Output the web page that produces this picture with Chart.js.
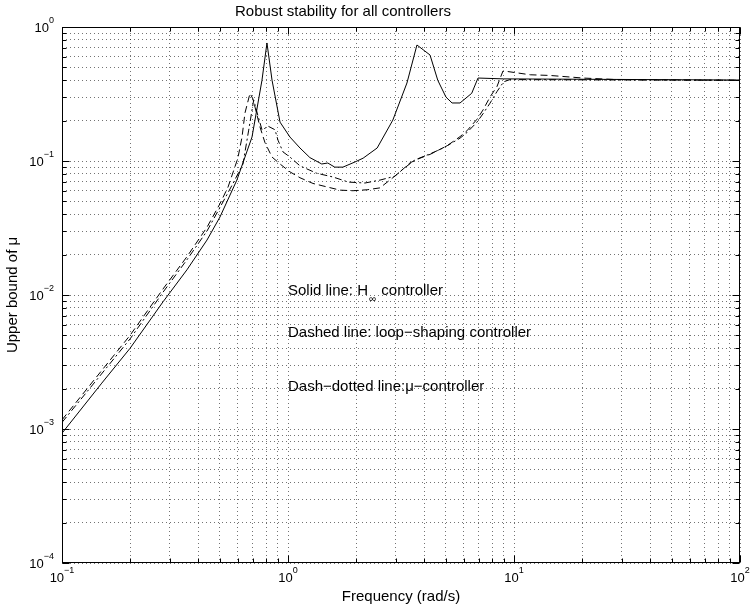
<!DOCTYPE html>
<html><head><meta charset="utf-8">
<script src="https://cdn.jsdelivr.net/npm/chart.js@4/dist/chart.umd.min.js"></script>
<style>html,body{margin:0;padding:0;background:#fff}#wrap{width:751px;height:609px}</style>
</head><body><div id="wrap"><canvas id="c" width="751" height="609"></canvas></div>
<script>
// ---- data ----
const freqSolid = [0.1, 0.15, 0.2, 0.28, 0.357, 0.438, 0.5, 0.594, 0.693, 0.767, 0.807, 0.85, 0.922, 1.02, 1.13, 1.25, 1.41, 1.5, 1.61, 1.75, 1.98, 2.15, 2.48, 2.91, 3.36, 3.72, 4.25, 4.6, 5.0, 5.32, 5.77, 6.5, 6.93, 9.0, 100];
const muSolid   = [0.00093, 0.0022, 0.0040, 0.0089, 0.0154, 0.0257, 0.0382, 0.0721, 0.151, 0.40, 0.76, 0.40, 0.195, 0.151, 0.125, 0.106, 0.095, 0.0966, 0.090, 0.090, 0.0984, 0.105, 0.125, 0.202, 0.382, 0.734, 0.618, 0.40, 0.30, 0.271, 0.271, 0.32, 0.416, 0.41, 0.402];

const freqDashed = [0.1, 0.2, 0.28, 0.357, 0.438, 0.5, 0.543, 0.6, 0.626, 0.645, 0.679, 0.70, 0.752, 0.791, 0.85, 0.922, 1.02, 1.13, 1.29, 1.49, 1.7, 1.94, 2.24, 2.55, 2.91, 3.13, 3.47, 3.84, 4.25, 5.06, 5.77, 6.19, 6.86, 7.29, 7.83, 8.41, 8.94, 9.4, 11.8, 14.4, 20.2, 28.6, 100];
const muDashed   = [0.00117, 0.0050, 0.0111, 0.0193, 0.032, 0.048, 0.064, 0.105, 0.151, 0.228, 0.32, 0.29, 0.179, 0.137, 0.107, 0.095, 0.083, 0.075, 0.068, 0.064, 0.0606, 0.060, 0.061, 0.063, 0.075, 0.083, 0.097, 0.105, 0.112, 0.13, 0.152, 0.168, 0.205, 0.24, 0.30, 0.36, 0.47, 0.465, 0.44, 0.435, 0.416, 0.405, 0.40];

const freqDashDot = [0.1, 0.2, 0.28, 0.357, 0.438, 0.5, 0.571, 0.632, 0.67, 0.705, 0.735, 0.768, 0.816, 0.876, 0.903, 0.95, 1.02, 1.13, 1.34, 1.58, 1.85, 2.19, 2.55, 2.97, 3.2, 3.65, 4.25, 4.71, 5.06, 5.77, 6.19, 6.86, 7.29, 7.83, 8.41, 9.0, 9.6, 100];
const muDashDot   = [0.00112, 0.0047, 0.0105, 0.0183, 0.030, 0.045, 0.068, 0.095, 0.17, 0.285, 0.22, 0.17, 0.182, 0.171, 0.143, 0.117, 0.107, 0.092, 0.081, 0.076, 0.0696, 0.0685, 0.072, 0.077, 0.086, 0.102, 0.113, 0.122, 0.130, 0.148, 0.163, 0.195, 0.225, 0.27, 0.33, 0.39, 0.405, 0.40];

// axis ticks and labels
const xMajorValues = [0.1, 1, 10, 100];
const xMajorExps   = ['\u22121', '0', '1', '2'];
const yMajorValues = [1e-4, 1e-3, 1e-2, 1e-1, 1];
const yMajorExps   = ['\u22124', '\u22123', '\u22122', '\u22121', '0'];
const minorMultipliers = [2, 3, 4, 5, 6, 7, 8, 9];

const chartTitle = 'Robust stability for all controllers';
const xAxisTitle = 'Frequency (rad/s)';
const yAxisTitle = 'Upper bound of \u03bc';

// in-plot notes: [before subscript, subscript, after subscript]
const notePieces = [
  ['Solid line: H', '\u221e', ' controller'],
  ['Dashed line: loop\u2212shaping controller', '', ''],
  ['Dash\u2212dotted line:\u03bc\u2212controller', '', '']
];
const noteFreq = [1.0, 1.0, 1.0];
const noteMu   = [0.0107, 0.0052, 0.00206];

// ---- build ----
function buildTicks(majors) {
  const t = [];
  majors.forEach((m, i) => {
    t.push({ value: m, major: true });
    if (i < majors.length - 1) minorMultipliers.forEach(k => t.push({ value: m * k, major: false }));
  });
  return t;
}
const xTicks = buildTicks(xMajorValues);
const yTicks = buildTicks(yMajorValues);
const pts = (xs, ys) => xs.map((x, i) => ({ x: x, y: ys[i] }));

const FONT = '"Liberation Sans", Arial, Helvetica, sans-serif';

const matlabAxes = {
  id: 'matlabAxes',
  afterDraw(chart) {
    const ctx = chart.ctx, a = chart.chartArea;
    const xs = chart.scales.x, ys = chart.scales.y;
    const L = Math.round(a.left) + 0.5, R = Math.round(a.right) - 0.5;
    const T = Math.round(a.top) + 0.5, B = Math.round(a.bottom) - 0.5;
    ctx.save();
    ctx.strokeStyle = '#000';
    ctx.lineWidth = 1;
    ctx.setLineDash([]);
    ctx.strokeRect(L, T, R - L, B - T);
    // inward ticks on all sides
    ctx.beginPath();
    xTicks.forEach(t => {
      const px = Math.round(xs.getPixelForValue(t.value)) + 0.5;
      const len = t.major ? 7 : 4;
      ctx.moveTo(px, B); ctx.lineTo(px, B - len);
      ctx.moveTo(px, T); ctx.lineTo(px, T + len);
    });
    yTicks.forEach(t => {
      const py = Math.round(ys.getPixelForValue(t.value)) + 0.5;
      const len = t.major ? 7 : 4;
      ctx.moveTo(L, py); ctx.lineTo(L + len, py);
      ctx.moveTo(R, py); ctx.lineTo(R - len, py);
    });
    ctx.stroke();

    ctx.fillStyle = '#000';
    const tickBig = '13px ' + FONT, tickSmall = '9px ' + FONT;
    const textBig = '15px ' + FONT, textSmall = '10px ' + FONT;
    ctx.textBaseline = 'middle';
    // x tick labels
    xMajorValues.forEach((v, i) => {
      const px = xs.getPixelForValue(v);
      ctx.font = tickBig; const w1 = ctx.measureText('10').width;
      ctx.font = tickSmall; const w2 = ctx.measureText(xMajorExps[i]).width;
      const x0 = px - (w1 + w2) / 2;
      ctx.textAlign = 'left';
      ctx.font = tickBig; ctx.fillText('10', x0, a.bottom + 15);
      ctx.font = tickSmall; ctx.fillText(xMajorExps[i], x0 + w1, a.bottom + 8);
    });
    // y tick labels
    yMajorValues.forEach((v, i) => {
      const py = ys.getPixelForValue(v);
      ctx.font = tickBig; const w1 = ctx.measureText('10').width;
      ctx.font = tickSmall; const w2 = ctx.measureText(yMajorExps[i]).width;
      const x0 = a.left - 8 - (w1 + w2);
      ctx.textAlign = 'left';
      ctx.font = tickBig; ctx.fillText('10', x0, py + 1);
      ctx.font = tickSmall; ctx.fillText(yMajorExps[i], x0 + w1, py - 6);
    });
    // titles
    ctx.font = textBig;
    ctx.textAlign = 'center';
    ctx.fillText(chartTitle, 343, 12);
    ctx.fillText(xAxisTitle, (a.left + a.right) / 2, 597);
    ctx.save();
    ctx.translate(13, (a.top + a.bottom) / 2);
    ctx.rotate(-Math.PI / 2);
    ctx.fillText(yAxisTitle, 0, 0);
    ctx.restore();
    // notes
    notePieces.forEach((p, i) => {
      let x = xs.getPixelForValue(noteFreq[i]);
      const y = ys.getPixelForValue(noteMu[i]);
      ctx.textAlign = 'left';
      ctx.font = textBig; ctx.fillText(p[0], x, y); x += ctx.measureText(p[0]).width;
      if (p[1]) { ctx.font = textSmall; ctx.fillText(p[1], x + 1, y + 8); x += ctx.measureText(p[1]).width + 2; }
      if (p[2]) { ctx.font = textBig; ctx.fillText(p[2], x, y); }
    });
    ctx.restore();
  }
};

const axisCommon = {
  type: 'logarithmic',
  ticks: { display: false },
  grid: { color: 'rgba(0,0,0,0.55)', lineWidth: 1, drawTicks: false },
  border: { display: false, dash: [1, 3] }
};

new Chart(document.getElementById('c'), {
  type: 'line',
  data: {
    datasets: [
      { label: 'H-infinity controller', data: pts(freqSolid, muSolid), borderColor: '#000', borderWidth: 1, pointRadius: 0, tension: 0, fill: false },
      { label: 'loop-shaping controller', data: pts(freqDashed, muDashed), borderColor: '#000', borderWidth: 1, borderDash: [7, 4], pointRadius: 0, tension: 0, fill: false },
      { label: 'mu-controller', data: pts(freqDashDot, muDashDot), borderColor: '#000', borderWidth: 1, borderDash: [7, 3, 2, 3], pointRadius: 0, tension: 0, fill: false }
    ]
  },
  options: {
    responsive: false,
    animation: false,
    devicePixelRatio: 1,
    layout: { padding: { left: 62, right: 11, top: 27, bottom: 46 } },
    plugins: { legend: { display: false }, title: { display: false }, tooltip: { enabled: false } },
    scales: {
      x: Object.assign({}, axisCommon, { min: 0.1, max: 100, afterBuildTicks: s => { s.ticks = xTicks.map(t => ({ value: t.value, major: t.major })); } }),
      y: Object.assign({}, axisCommon, { min: 1e-4, max: 1, afterBuildTicks: s => { s.ticks = yTicks.map(t => ({ value: t.value, major: t.major })); } })
    }
  },
  plugins: [matlabAxes]
});
</script>
</body></html>
